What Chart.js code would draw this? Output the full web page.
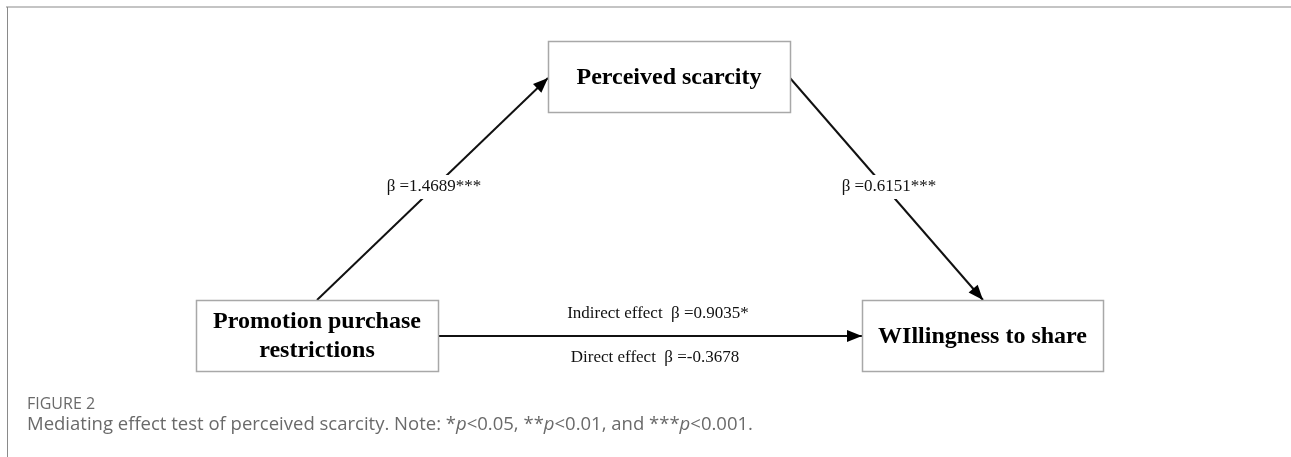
<!DOCTYPE html>
<html>
<head>
<meta charset="utf-8">
<script src="https://cdn.jsdelivr.net/npm/chart.js@4"></script>
<style>
  html, body { margin: 0; padding: 0; background: #fff; }
  #wrap { position: relative; width: 1291px; height: 457px; }
  canvas { display: block; }
</style>
</head>
<body>
<div id="wrap"><canvas id="c" width="1291" height="457"></canvas></div>
<script>
// ---- Data (content) ----
const nodeLabels = [
  ["Promotion purchase", "restrictions"],
  ["Perceived scarcity"],
  ["WIllingness to share"]
];
const pathFrom = [0, 1, 0];
const pathTo = [1, 2, 2];
const pathLabelsAbove = ["β =1.4689***", "β =0.6151***", "Indirect effect  β =0.9035*"];
const pathLabelsBelow = ["", "", "Direct effect  β =-0.3678"];
const captionTitle = "FIGURE 2";
const captionText = "Mediating effect test of perceived scarcity. Note: *p<0.05, **p<0.01, and ***p<0.001.";

// ---- Layout (positions in scale units; scales span the canvas) ----
const nodeBoxes = [
  { x0: 196, x1: 438, y0: 300, y1: 371 },
  { x0: 548, x1: 790, y0: 41, y1: 112 },
  { x0: 862, x1: 1103, y0: 300, y1: 371 }
];
const pathAnchors = [
  [{ x: 317, y: 300 }, { x: 548, y: 78 }],
  [{ x: 790, y: 78 }, { x: 983, y: 300 }],
  [{ x: 438, y: 336 }, { x: 862, y: 336 }]
];
const labelPosAbove = [{ x: 434, y: 187 }, { x: 889, y: 187 }, { x: 658, y: 314 }];
const labelPosBelow = [null, null, { x: 655, y: 358 }];
const labelBackground = [true, true, false];

const edgeDatasets = pathAnchors.map((a, i) => ({
  type: 'line',
  label: 'path' + i,
  data: [{ x: a[0].x, y: a[0].y }, { x: a[1].x, y: a[1].y }],
  borderColor: '#111',
  borderWidth: 2,
  pointRadius: 0,
  showLine: true,
  fill: false
}));

const SERIF = '"Liberation Serif", "Times New Roman", serif';
const SANS = '"Open Sans", "Noto Sans", sans-serif';

const diagramPlugin = {
  id: 'diagram',
  beforeDatasetsDraw(chart) {
    const ctx = chart.ctx;
    const xs = chart.scales.x, ys = chart.scales.y;
    ctx.save();
    ctx.strokeStyle = '#c4c4c4';
    ctx.lineWidth = 2;
    ctx.beginPath();
    ctx.moveTo(xs.getPixelForValue(6), ys.getPixelForValue(7));
    ctx.lineTo(xs.getPixelForValue(1291), ys.getPixelForValue(7));
    ctx.stroke();
    ctx.strokeStyle = '#8a8a8a';
    ctx.lineWidth = 1;
    ctx.beginPath();
    ctx.moveTo(xs.getPixelForValue(7.5), ys.getPixelForValue(7));
    ctx.lineTo(xs.getPixelForValue(7.5), ys.getPixelForValue(457));
    ctx.stroke();
    ctx.restore();
  },
  afterDatasetsDraw(chart) {
    const ctx = chart.ctx;
    const xs = chart.scales.x, ys = chart.scales.y;
    ctx.save();
    // arrowheads
    pathAnchors.forEach(a => {
      const x1 = xs.getPixelForValue(a[0].x), y1 = ys.getPixelForValue(a[0].y);
      const x2 = xs.getPixelForValue(a[1].x), y2 = ys.getPixelForValue(a[1].y);
      const ang = Math.atan2(y2 - y1, x2 - x1);
      const L = 15, W = 6;
      ctx.fillStyle = '#000';
      ctx.beginPath();
      ctx.moveTo(x2, y2);
      ctx.lineTo(x2 - L * Math.cos(ang) + W * Math.sin(ang), y2 - L * Math.sin(ang) - W * Math.cos(ang));
      ctx.lineTo(x2 - L * Math.cos(ang) - W * Math.sin(ang), y2 - L * Math.sin(ang) + W * Math.cos(ang));
      ctx.closePath();
      ctx.fill();
    });
    // boxes
    nodeBoxes.forEach((b, i) => {
      const px0 = xs.getPixelForValue(b.x0), px1 = xs.getPixelForValue(b.x1);
      const py0 = ys.getPixelForValue(b.y0), py1 = ys.getPixelForValue(b.y1);
      ctx.fillStyle = '#fff';
      ctx.fillRect(px0, py0, px1 - px0, py1 - py0);
      ctx.strokeStyle = '#a8a8a8';
      ctx.lineWidth = 1.5;
      ctx.strokeRect(px0 + 0.5, py0 + 0.5, px1 - px0, py1 - py0);
      ctx.fillStyle = '#000';
      ctx.font = 'bold 24px ' + SERIF;
      ctx.textAlign = 'center';
      ctx.textBaseline = 'middle';
      const lines = nodeLabels[i];
      const cx = (px0 + px1) / 2, cy = (py0 + py1) / 2;
      const lh = 29;
      lines.forEach((t, k) => {
        ctx.fillText(t, cx, cy + (k - (lines.length - 1) / 2) * lh + 1);
      });
    });
    // path labels
    ctx.font = '17px ' + SERIF;
    ctx.textAlign = 'center';
    ctx.textBaseline = 'middle';
    const drawLabel = (t, p, bg) => {
      const px = xs.getPixelForValue(p.x), py = ys.getPixelForValue(p.y);
      if (bg) {
        const w = ctx.measureText(t).width;
        ctx.fillStyle = '#fff';
        ctx.fillRect(px - w / 2 - 3, py - 12, w + 6, 24);
      }
      ctx.fillStyle = '#111';
      ctx.fillText(t, px, py);
    };
    pathLabelsAbove.forEach((t, i) => {
      const p = labelPosAbove[i];
      if (t && p) drawLabel(t, p, labelBackground[i]);
    });
    pathLabelsBelow.forEach((t, i) => {
      const p = labelPosBelow[i];
      if (t && p) drawLabel(t, p, false);
    });
    // caption
    ctx.textAlign = 'left';
    ctx.textBaseline = 'alphabetic';
    ctx.fillStyle = '#6a6a6a';
    ctx.font = '16px ' + SANS;
    ctx.fillText(captionTitle, xs.getPixelForValue(27), ys.getPixelForValue(409));
    const parts = captionText.split(/(p)(?=<)/);
    let cx = xs.getPixelForValue(27);
    const cy = ys.getPixelForValue(430);
    parts.forEach(seg => {
      ctx.font = (seg === 'p' ? 'italic ' : '') + '18.5px ' + SANS;
      ctx.fillText(seg, cx, cy);
      cx += ctx.measureText(seg).width;
    });
    ctx.restore();
  }
};

new Chart(document.getElementById('c'), {
  type: 'scatter',
  data: { datasets: edgeDatasets },
  options: {
    responsive: false,
    animation: false,
    layout: { padding: 0 },
    plugins: { legend: { display: false }, tooltip: { enabled: false } },
    scales: {
      x: { type: 'linear', min: 0, max: 1291, display: false },
      y: { type: 'linear', min: 0, max: 457, reverse: true, display: false }
    }
  },
  plugins: [diagramPlugin]
});
</script>
</body>
</html>
